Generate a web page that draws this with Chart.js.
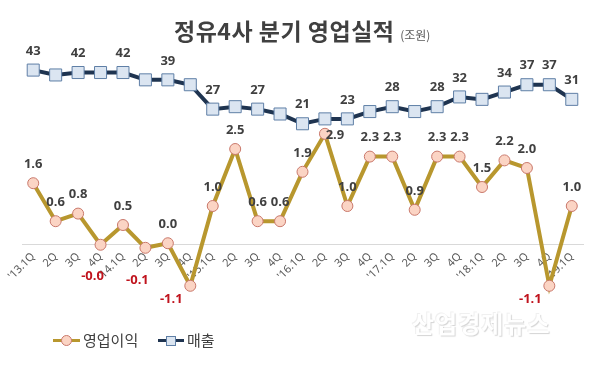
<!DOCTYPE html>
<html><head><meta charset="utf-8">
<script src="https://cdn.jsdelivr.net/npm/chart.js@4.4.1/dist/chart.umd.min.js"></script>
<style>
html,body{margin:0;padding:0;background:#fff;}
#wrap{position:relative;width:601px;height:379px;overflow:hidden;font-family:"Noto Sans CJK KR","Noto Sans",sans-serif;}
#c{position:absolute;left:0;top:0;}
.title{position:absolute;left:174px;top:13px;font-weight:bold;font-size:23px;color:#404040;letter-spacing:0.5px;white-space:nowrap;}
.unit{font-size:12px;font-weight:normal;color:#595959;letter-spacing:0;}
.leg{position:absolute;top:330px;font-size:15px;color:#404040;white-space:nowrap;}
.ln{position:absolute;height:3px;}
.mk{position:absolute;box-sizing:border-box;}
.wm{position:absolute;left:412px;top:305px;font-size:24px;font-weight:bold;color:#ffffff;letter-spacing:1px;text-shadow:1px 1px 1px #d4d4d4,-1px -1px 0 #f0f0f0;white-space:nowrap;}
</style></head>
<body>
<div id="wrap">
<canvas id="c" width="601" height="379"></canvas>
<div class="title">정유4사 분기 영업실적 <span class="unit">(조원)</span></div>
<div class="wm">산업경제뉴스</div>
<div class="ln" style="left:53px;top:339px;width:27px;background:#b8972e;"></div>
<div class="mk" style="left:61px;top:335px;width:11px;height:11px;border-radius:50%;background:#fbd4c4;border:1px solid #c9786b;"></div>
<div class="leg" style="left:83px;top:329px;">영업이익</div>
<div class="ln" style="left:158px;top:339px;width:26px;background:#1f3450;"></div>
<div class="mk" style="left:166px;top:336px;width:10px;height:10px;background:#dbe5f1;border:1px solid #5f7fa6;"></div>
<div class="leg" style="left:187px;top:329px;">매출</div>
</div>
<script>
const quarters = ["'13.1Q","2Q","3Q","4Q","'14.1Q","2Q","3Q","4Q","'15.1Q","2Q","3Q","4Q","'16.1Q","2Q","3Q","4Q","'17.1Q","2Q","3Q","4Q","'18.1Q","2Q","3Q","4Q","'19.1Q"];
const profit = [1.6,0.6,0.8,-0.02,0.5,-0.1,0.02,-1.1,1.0,2.5,0.6,0.6,1.9,2.9,1.0,2.3,2.3,0.9,2.3,2.3,1.5,2.2,2.0,-1.1,1.0];
const sales = [43,41,42,42,42,39,39,37,27,28,27,25,21,23,23,26,28,26,28,32,31,34,37,37,31];
const salesLabelShown = [1,0,1,0,1,0,1,0,1,0,1,0,1,0,1,0,1,0,1,1,0,1,1,1,1];

const valueLabels = {
  id: 'valueLabels',
  afterDatasetsDraw(chart) {
    const ctx = chart.ctx;
    ctx.save();
    ctx.textAlign = 'center';
    ctx.textBaseline = 'middle';
    ctx.font = 'bold 13px "Open Sans", sans-serif';
    const ms = chart.getDatasetMeta(1);
    ms.data.forEach((pt, i) => {
      if (!salesLabelShown[i]) return;
      ctx.fillStyle = '#404040';
      ctx.fillText(String(sales[i]), pt.x, pt.y - 19);
    });
    const mp = chart.getDatasetMeta(0);
    const maxV = Math.max(...profit);
    mp.data.forEach((pt, i) => {
      const v = profit[i];
      let dx = 0, dy = -19, col = '#404040';
      if (v < 0) {
        col = '#c0141e';
        if (v > -0.5) { dx = -8; dy = 32; } else { dx = -19; dy = 13; }
      } else if (v === maxV) { dx = 10; dy = 1; }
      ctx.fillStyle = col;
      ctx.fillText(v.toFixed(1), pt.x + dx, pt.y + dy);
    });
    ctx.restore();
  }
};

new Chart(document.getElementById('c'), {
  type: 'line',
  data: {
    labels: quarters,
    datasets: [
      {
        label: '영업이익', data: profit, yAxisID: 'yp',
        borderColor: '#b8972e', borderWidth: 4, tension: 0,
        pointStyle: 'circle', pointRadius: 5.5, pointHoverRadius: 5.5,
        pointBackgroundColor: '#fbd4c4', pointBorderColor: '#c9786b', pointBorderWidth: 1,
        clip: false, order: 1
      },
      {
        label: '매출', data: sales, yAxisID: 'ys',
        borderColor: '#1f3450', borderWidth: 4, tension: 0,
        pointStyle: 'rect', pointRadius: 8.5, pointHoverRadius: 8.5,
        pointBackgroundColor: '#dbe5f1', pointBorderColor: '#5f7fa6', pointBorderWidth: 1,
        clip: false, order: 2
      }
    ]
  },
  options: {
    responsive: false,
    animation: false,
    events: [],
    layout: { padding: { left: 22, right: 18, top: 40, bottom: 79 } },
    plugins: { legend: { display: false }, title: { display: false }, tooltip: { enabled: false } },
    scales: {
      x: {
        type: 'category', offset: true,
        position: { yp: 0 },
        grid: { display: false, drawTicks: false },
        border: { display: true, color: '#d9d9d9', width: 1 },
        ticks: { autoSkip: false, minRotation: 45, maxRotation: 45, padding: 6, color: '#595959',
                 font: { family: '"Noto Sans", sans-serif', size: 11 } },
        afterFit: (s) => { s.paddingLeft = 0; s.paddingRight = 0; }
      },
      yp: { display: false, min: -56 / 38, max: 204 / 38 },
      ys: { display: false, min: -51.23, max: 55.33 }
    }
  },
  plugins: [valueLabels]
});
</script>
</body></html>
